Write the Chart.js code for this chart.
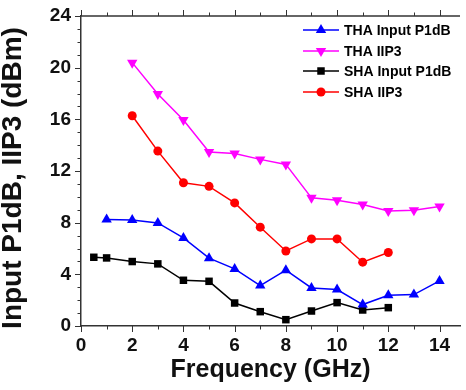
<!DOCTYPE html>
<html>
<head>
<meta charset="utf-8">
<script src="https://cdn.jsdelivr.net/npm/chart.js@4/dist/chart.umd.min.js"></script>
<style>
  html, body { margin: 0; padding: 0; background: #fff; }
  #wrap { width: 466px; height: 390px; }
</style>
</head>
<body>
<div id="wrap"><canvas id="myChart" width="466" height="390"></canvas></div>
<script>
// frequencies (GHz)
const freqSHA = [0.5, 1, 2, 3, 4, 5, 6, 7, 8, 9, 10, 11, 12];
const freqTHA = [1, 2, 3, 4, 5, 6, 7, 8, 9, 10, 11, 12, 13, 14];
const freqTHAiip3 = [2, 3, 4, 5, 6, 7, 8, 9, 10, 11, 12, 13, 14];
const freqSHAiip3 = [2, 3, 4, 5, 6, 7, 8, 9, 10, 11, 12];

// values (dBm)
const thaP1dB = [8.25, 8.2, 7.98, 6.82, 5.25, 4.42, 3.13, 4.32, 2.95, 2.82, 1.66, 2.38, 2.43, 3.49];
const thaIIP3 = [20.39, 17.96, 15.95, 13.47, 13.36, 12.9, 12.51, 9.92, 9.74, 9.41, 8.91, 8.97, 9.26];
const shaP1dB = [5.32, 5.27, 4.99, 4.81, 3.54, 3.46, 1.78, 1.11, 0.49, 1.16, 1.81, 1.24, 1.42];
const shaIIP3 = [16.28, 13.54, 11.09, 10.81, 9.53, 7.65, 5.81, 6.74, 6.74, 4.94, 5.69];

const seriesNames = ['THA Input P1dB', 'THA IIP3', 'SHA Input P1dB', 'SHA IIP3'];
const xTicks = [0, 2, 4, 6, 8, 10, 12, 14];
const yTicks = [0, 4, 8, 12, 16, 20, 24];
const yTitle = 'Input P1dB, IIP3 (dBm)';

const FONT = "'Liberation Sans', Arial, sans-serif";
const AXIS_COLOR = '#333';

function pairs(xs, ys) {
    return xs.map((x, i) => ({ x: x, y: ys[i] }));
}

// minor ticks, top frame line, y title and legend
const framePlugin = {
    id: 'frame',
    afterDraw(chart) {
        const ctx = chart.ctx;
        const area = chart.chartArea;
        const xs = chart.scales.x;
        const ys = chart.scales.y;
        ctx.save();
        ctx.strokeStyle = AXIS_COLOR;
        ctx.lineWidth = 1.5;
        ctx.beginPath();
        ctx.moveTo(area.left, area.top);
        ctx.lineTo(area.right, area.top);
        ctx.stroke();
        ctx.lineWidth = 1;
        ctx.beginPath();
        for (let v = 0; v <= 14; v++) {
            const px = Math.round(xs.getPixelForValue(v)) + 0.5;
            const len = v % 2 === 0 ? 6 : 3.5;
            ctx.moveTo(px, area.bottom);
            ctx.lineTo(px, area.bottom + len);
            ctx.moveTo(px, area.top);
            ctx.lineTo(px, area.top - len);
        }
        for (let v = 0; v <= 24; v++) {
            const py = Math.round(ys.getPixelForValue(v)) + 0.5;
            const len = v % 4 === 0 ? 6 : 3.5;
            ctx.moveTo(area.left, py);
            ctx.lineTo(area.left - len, py);
        }
        ctx.stroke();

        // y axis title
        ctx.save();
        ctx.translate(21, 178);
        ctx.rotate(-Math.PI / 2);
        ctx.font = 'bold 28px ' + FONT;
        ctx.fillStyle = '#111';
        ctx.textAlign = 'center';
        ctx.textBaseline = 'alphabetic';
        ctx.fillText(yTitle, 0, 0);
        ctx.restore();

        // legend
        const lx = 303, rowY = [30, 51, 71, 92];
        ctx.font = 'bold 14px ' + FONT;
        ctx.textBaseline = 'middle';
        chart.data.datasets.forEach((ds, i) => {
            const y = rowY[i];
            ctx.strokeStyle = ds.borderColor;
            ctx.lineWidth = 1.5;
            ctx.beginPath();
            ctx.moveTo(lx, y);
            ctx.lineTo(lx + 36, y);
            ctx.stroke();
            ctx.fillStyle = ds.pointBackgroundColor;
            ctx.strokeStyle = ds.pointBorderColor;
            Chart.helpers.drawPoint(ctx, {
                pointStyle: ds.pointStyle,
                rotation: ds.pointRotation || 0,
                radius: ds.pointRadius,
                borderWidth: 0
            }, lx + 18, y);
            ctx.fillStyle = '#000';
            ctx.fillText(seriesNames[i], lx + 41, y + 1);
        });
        ctx.restore();
    }
};

function dataset(label, data, color, style, radius, rotation) {
    return {
        label: label,
        data: data,
        borderColor: color,
        backgroundColor: color,
        pointBackgroundColor: color,
        pointBorderColor: color,
        borderWidth: 1.5,
        pointStyle: style,
        pointRadius: radius,
        pointRotation: rotation,
        pointBorderWidth: 0,
        tension: 0
    };
}

new Chart(document.querySelector('#myChart').getContext('2d'), {
    type: 'line',
    data: {
        datasets: [
            dataset(seriesNames[0], pairs(freqTHA, thaP1dB), '#0000ff', 'triangle', 6, 0),
            dataset(seriesNames[1], pairs(freqTHAiip3, thaIIP3), '#ff00ff', 'triangle', 6, 180),
            dataset(seriesNames[2], pairs(freqSHA, shaP1dB), '#000000', 'rect', 5.3, 0),
            dataset(seriesNames[3], pairs(freqSHAiip3, shaIIP3), '#ff0000', 'circle', 4.5, 0)
        ]
    },
    options: {
        responsive: false,
        animation: false,
        devicePixelRatio: 1,
        layout: { padding: { top: 16, right: 0, left: 0, bottom: 0 } },
        plugins: {
            legend: { display: false },
            tooltip: { enabled: false }
        },
        scales: {
            x: {
                type: 'linear',
                min: 0,
                max: 14.8,
                afterFit(scale) { scale.height = 64; },
                afterBuildTicks(scale) { scale.ticks = xTicks.map(v => ({ value: v })); },
                ticks: {
                    color: '#111',
                    font: { family: FONT, size: 19, weight: 'bold' },
                    padding: 2,
                    maxRotation: 0
                },
                grid: { drawOnChartArea: false, drawTicks: true, tickLength: 6, tickColor: 'rgba(0,0,0,0)' },
                border: { color: AXIS_COLOR, width: 1.5 },
                title: {
                    display: true,
                    text: 'Frequency (GHz)',
                    color: '#111',
                    font: { family: FONT, size: 25, weight: 'bold' },
                    padding: { top: 0, bottom: 5 }
                }
            },
            y: {
                type: 'linear',
                min: 0,
                max: 24,
                afterFit(scale) { scale.width = 81; },
                afterBuildTicks(scale) { scale.ticks = yTicks.map(v => ({ value: v })); },
                ticks: {
                    color: '#111',
                    font: { family: FONT, size: 19, weight: 'bold' },
                    padding: 4
                },
                grid: { drawOnChartArea: false, drawTicks: true, tickLength: 6, tickColor: 'rgba(0,0,0,0)' },
                border: { color: AXIS_COLOR, width: 1.5 },
                title: { display: false }
            }
        }
    },
    plugins: [framePlugin]
});
</script>
</body>
</html>
